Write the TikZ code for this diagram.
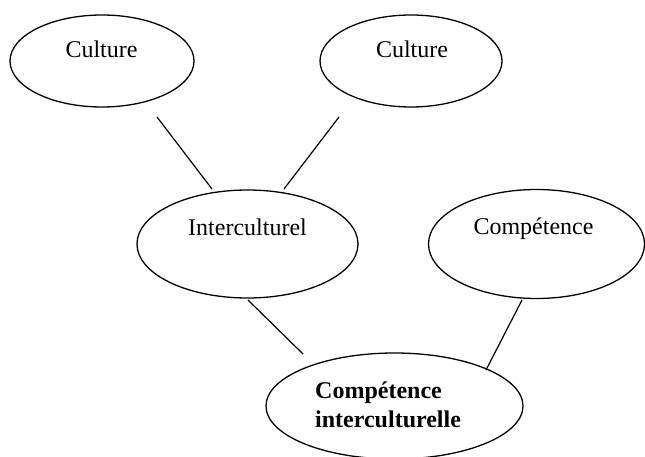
\documentclass[tikz,border=0pt]{standalone}
\usepackage{fontspec}
\setmainfont{Liberation Serif}
\usetikzlibrary{shapes.geometric}
\begin{document}
\begin{tikzpicture}[x=1pt,y=-1pt,
  oval/.style={draw=black, line width=1.3pt, ellipse, inner sep=0pt},
  lbl/.style={font=\fontsize{24}{29}\selectfont, inner sep=0pt, anchor=base},
  conn/.style={draw=black, line width=1.2pt}]
\useasboundingbox (0,0) rectangle (645,457);
% ellipses
\node[oval, minimum width=184pt, minimum height=92pt] (e1) at (102,61) {};
\node[oval, minimum width=182pt, minimum height=92pt] (e2) at (411,61) {};
\node[oval, minimum width=221pt, minimum height=108pt] (e3) at (247.5,244) {};
\node[oval, minimum width=216pt, minimum height=109pt] (e4) at (536.5,244) {};
\node[oval, minimum width=257pt, minimum height=106pt] (e5) at (394.5,406) {};
% texts
\node[lbl] (t1) at (101.5,58) {Culture};
\node[lbl] (t2) at (412,58) {Culture};
\node[lbl] (t3) at (247.5,235) {Interculturel};
\node[lbl] (t4) at (533.5,234) {Compétence};
\node[lbl, anchor=base west, align=left, font=\fontsize{24}{29}\selectfont\bfseries] (t5) at (315,427) {Compétence\\interculturelle};
% connector ends
\coordinate (a1) at (157,117); \coordinate (b1) at (212,189);
\coordinate (a2) at (339,117); \coordinate (b2) at (284,189);
\coordinate (a3) at (248,300); \coordinate (b3) at (303,354);
\coordinate (a4) at (522,300); \coordinate (b4) at (486,370);
\draw[conn] (a1) -- (b1);
\draw[conn] (a2) -- (b2);
\draw[conn] (a3) -- (b3);
\draw[conn] (a4) -- (b4);
\end{tikzpicture}
\end{document}
